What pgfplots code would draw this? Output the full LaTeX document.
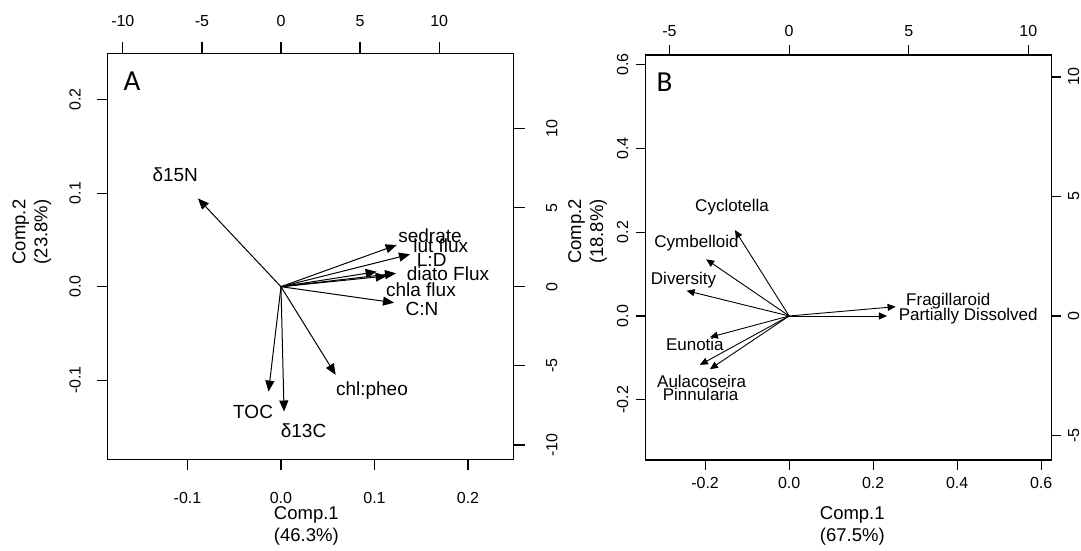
\documentclass[border=0pt]{standalone}
\usepackage{fontspec}
\setmainfont{Liberation Sans}
\newfontfamily\letterfont{Carlito}
\usepackage{pgfplots}
\usepackage{pgfplotstable}
\pgfplotsset{compat=1.18}
\usetikzlibrary{arrows.meta}

% loadings, panel A: arrow tip (tx,ty) and label centre (lx,ly)
\pgfplotstableread{
name tx ty lx ly
δ15N -0.0888 0.0944 -0.1131 0.1195
sedrate 0.1237 0.0446 0.1594 0.0544
{lut flux} 0.1380 0.0346 0.1709 0.0435
L:D 0.1023 0.0160 0.1612 0.0286
{diato Flux} 0.1130 0.0114 0.1786 0.0136
{chla flux} 0.1230 0.0143 0.1497 -0.0035
C:N 0.1209 -0.0171 0.1508 -0.0238
chl:pheo 0.0585 -0.0943 0.0973 -0.1113
TOC -0.0133 -0.1122 -0.0298 -0.1345
δ13C 0.0033 -0.1335 0.0241 -0.1538
}\loadA

% loadings, panel B
\pgfplotstableread{
name tx ty lx ly
Cyclotella -0.1290 0.2050 -0.1358 0.2590
Cymbelloid -0.1974 0.1352 -0.2206 0.1733
Diversity -0.2441 0.0603 -0.2513 0.0858
Fragillaroid 0.2535 0.0222 0.3789 0.0346
{Partially Dissolved} 0.2330 0.0000 0.4264 0.0000
Eunotia -0.1886 -0.0508 -0.2244 -0.0691
Aulacoseira -0.2124 -0.1168 -0.2084 -0.1570
Pinnularia -0.1886 -0.1271 -0.2108 -0.1880
}\loadB

\pgfplotsset{
  biplot/.style={
    scale only axis, anchor=south west, clip=false,
    tick align=outside,
    axis line style={line width=1.2pt},
    every tick/.style={line width=1.2pt, black},
    tick label style={font=\fontsize{16}{16}\selectfont, inner sep=0pt, anchor=center},
    yticklabel style={rotate=90},
  },
}

\begin{document}
\begin{tikzpicture}
\path[use as bounding box] (0,0) rectangle (1081pt,550pt);

% ---------- panel A ----------
\begin{axis}[biplot,
  at={(107.8pt,90.7pt)}, width=406pt, height=406pt,
  xmin=-0.1852, xmax=0.2490, ymin=-0.1846, ymax=0.2496,
  xtick pos=left, ytick pos=left,
  major tick length=11pt,
  xtick={-0.1,0,0.1,0.2}, xticklabels={-0.1,0.0,0.1,0.2},
  ytick={-0.1,0,0.1,0.2}, yticklabels={-0.1,0.0,0.1,0.2},
  xticklabel shift=27.4pt, yticklabel shift=21.8pt,
  xlabel={Comp.1\\(46.3\%)}, ylabel={Comp.2\\(23.8\%)},
  label style={font=\fontsize{18.5}{22}\selectfont, align=center, inner sep=0pt},
  xlabel style={at={(axis description cs:0.489,-0.163)}, anchor=center},
  ylabel style={at={(axis description cs:-0.1873,0.5598)}, anchor=center, rotate=0},
]
\addplot[black, line width=1pt, -{Triangle[length=11pt,width=9pt]},
  quiver={u=\thisrow{tx}, v=\thisrow{ty}}]
  table[x expr=0, y expr=0] {\loadA};
\addplot[only marks, mark=none, nodes near coords, point meta=explicit symbolic,
  every node near coord/.style={anchor=center, inner sep=0pt,
    font=\fontsize{19}{19}\selectfont}]
  table[x=lx, y=ly, meta=name] {\loadA};
\node[font=\letterfont\fontsize{29}{29}\selectfont] at (rel axis cs:0.0596,0.9318) {A};
\end{axis}
\begin{axis}[biplot,
  at={(107.8pt,90.7pt)}, width=406pt, height=406pt,
  xmin=-10.95, xmax=14.72, ymin=-10.91, ymax=14.76,
  axis x line*=top, axis y line*=right,
  major tick length=11pt,
  xtick={-10,-5,0,5,10}, xticklabels={-10,-5,0,5,10},
  ytick={-10,-5,0,5,10}, yticklabels={-10,-5,0,5,10},
  xticklabel shift=21.6pt, yticklabel shift=27pt,
]
\end{axis}

% ---------- panel B ----------
\begin{axis}[biplot,
  at={(645.2pt,90pt)}, width=406.2pt, height=405pt,
  xmin=-0.3426, xmax=0.6244, ymin=-0.3439, ymax=0.6231,
  xtick pos=left, ytick pos=left,
  major tick length=9.5pt,
  xtick={-0.2,0,0.2,0.4,0.6}, xticklabels={-0.2,0.0,0.2,0.4,0.6},
  ytick={-0.2,0,0.2,0.4,0.6}, yticklabels={-0.2,0.0,0.2,0.4,0.6},
  xticklabel shift=13.5pt, yticklabel shift=13.2pt,
  xlabel={Comp.1\\(67.5\%)}, ylabel={Comp.2\\(18.8\%)},
  label style={font=\fontsize{18.5}{22}\selectfont, align=center, inner sep=0pt},
  xlabel style={at={(axis description cs:0.5098,-0.1627)}, anchor=center},
  ylabel style={at={(axis description cs:-0.142,0.5642)}, anchor=center, rotate=0},
]
\addplot[black, line width=0.9pt, -{Triangle[length=8pt,width=7pt]},
  quiver={u=\thisrow{tx}, v=\thisrow{ty}}]
  table[x expr=0, y expr=0] {\loadB};
\addplot[only marks, mark=none, nodes near coords, point meta=explicit symbolic,
  every node near coord/.style={anchor=center, inner sep=0pt,
    font=\fontsize{17}{17}\selectfont}]
  table[x=lx, y=ly, meta=name] {\loadB};
\node[font=\letterfont\fontsize{29}{29}\selectfont] at (rel axis cs:0.0475,0.932) {B};
\end{axis}
\begin{axis}[biplot,
  at={(645.2pt,90pt)}, width=406.2pt, height=405pt,
  xmin=-6.016, xmax=10.965, ymin=-6.03, ymax=10.92,
  axis x line*=top, axis y line*=right,
  major tick length=9.5pt,
  xtick={-5,0,5,10}, xticklabels={-5,0,5,10},
  ytick={-5,0,5,10}, yticklabels={-5,0,5,10},
  xticklabel shift=14.5pt, yticklabel shift=12.8pt,
]
\end{axis}
\end{tikzpicture}
\end{document}
